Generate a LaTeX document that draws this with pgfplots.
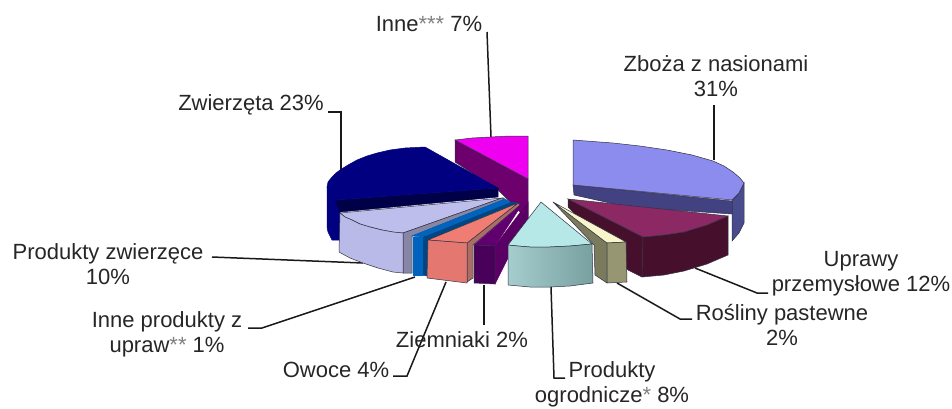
\documentclass[border=0pt]{standalone}
\usepackage{fontspec}
\setmainfont{Liberation Sans}
\usepackage{pgfplots}
\pgfplotsset{compat=1.18}
\definecolor{zbtop}{RGB}{140,140,238}
\definecolor{zbin}{RGB}{66,66,130}
\definecolor{zbout}{RGB}{72,76,140}
\definecolor{uptop}{RGB}{140,40,100}
\definecolor{updark}{RGB}{70,16,44}
\definecolor{rptop}{RGB}{248,246,200}
\definecolor{rpside}{RGB}{122,122,92}
\definecolor{rpfront}{RGB}{150,150,115}
\definecolor{ogtop}{RGB}{182,232,232}
\definecolor{ogl}{RGB}{165,205,205}
\definecolor{ogr}{RGB}{120,160,160}
\definecolor{intop}{RGB}{240,0,240}
\definecolor{inside}{RGB}{110,0,110}
\definecolor{zwtop}{RGB}{0,0,128}
\definecolor{zwin}{RGB}{0,0,72}
\definecolor{pztop}{RGB}{190,190,236}
\definecolor{pzfront}{RGB}{186,186,232}
\definecolor{pzside}{RGB}{135,135,165}
\definecolor{ipfront}{RGB}{0,100,190}
\definecolor{ipside}{RGB}{0,70,130}
\definecolor{owtop}{RGB}{240,125,115}
\definecolor{owfront}{RGB}{228,120,112}
\definecolor{owside}{RGB}{170,110,100}
\definecolor{zitop}{RGB}{96,0,110}
\definecolor{zifront}{RGB}{72,0,90}
\definecolor{ziside}{RGB}{90,0,100}
\definecolor{edge}{RGB}{50,50,70}
\begin{document}
\begin{tikzpicture}
\begin{axis}[
    width=952pt, height=408pt, scale only axis,
    hide axis, clip=false,
    xmin=0, xmax=952, ymin=0, ymax=408, y dir=reverse,
    every axis plot/.append style={line width=0.5pt, draw=edge},
]
% leader lines
\pgfplotsset{leader/.style={draw=black!90, line width=1.5pt}}
\addplot[leader] coordinates {(487,32) (491,137)};
\addplot[leader] coordinates {(328,112) (341,112) (341,170)};
\addplot[leader] coordinates {(714,105) (714,160)};
\addplot[leader] coordinates {(695,268) (757,293) (768,293)};
\addplot[leader] coordinates {(617,283) (680,319) (692,319)};
\addplot[leader] coordinates {(551,287) (554,378) (565,378)};
\addplot[leader] coordinates {(484,285) (484,325)};
\addplot[leader] coordinates {(446,282) (407,376) (393,376)};
\addplot[leader] coordinates {(415,277) (262,328) (248,328)};
\addplot[leader] coordinates {(363,263) (212,257)};
% Inne
\addplot[fill=inside] coordinates {(455,140) (528,179) (528,220) (498,190) (455,162)} -- cycle;
\addplot[fill=intop] coordinates {(455,140) (472,138) (490,137) (510,136) (528,136) (528,179)} -- cycle;
% Zwierzeta
\addplot[fill=zwtop, draw=zwtop] coordinates {(327,187) (331,195) (335,200) (340,210) (340,240) (332,240) (328,232) (327,227)} -- cycle;
\addplot[fill=zwin, draw=zwin] coordinates {(335,200) (498,188) (498,197) (340,212)} -- cycle;
\addplot[fill=zwtop, draw=zwtop] coordinates {(425,147) (498,188) (335,200) (331,195) (327,187) (328,182) (332,177) (336,173) (340,170) (348,165) (357,160) (367,156) (377,153) (390,150) (405,148)} -- cycle;
% Produkty zwierzece
\addplot[fill=pztop] coordinates {(340,213) (502,198) (403,233) (393,232) (382,230) (370,227) (360,224) (352,220) (345,217)} -- cycle;
\addplot[fill=pzside] coordinates {(403,233) (502,198) (505,199) (412,236) (412,273) (403,273)} -- cycle;
\addplot[fill=pzfront] coordinates {(340,213) (345,217) (352,220) (360,224) (370,227) (382,230) (393,232) (403,233) (403,273) (393,272) (378,268) (363,263) (350,258) (339,252)} -- cycle;
% Inne produkty
\addplot[fill=ipside, draw=ipside] coordinates {(422,237) (510,202) (518,203) (428,240) (427,276) (422,275)} -- cycle;
\addplot[fill=ipfront, draw=ipfront] coordinates {(412,236) (422,237) (510,202) (505,199)} -- cycle;
\addplot[fill=ipfront, draw=ipfront] coordinates {(413,237) (422,237) (422,275) (413,275)} -- cycle;
% Owoce
\addplot[fill=owside] coordinates {(467,243) (518,203) (520,205) (473,245) (473,278) (467,282)} -- cycle;
\addplot[fill=owtop] coordinates {(428,240) (518,203) (467,243)} -- cycle;
\addplot[fill=owfront] coordinates {(428,240) (467,243) (467,283) (427,278)} -- cycle;
% Ziemniaki
\addplot[fill=ziside, draw=ziside] coordinates {(495,246) (528,202) (528,218) (495,284)} -- cycle;
\addplot[fill=zitop, draw=zitop] coordinates {(474,245) (495,246) (523,203)} -- cycle;
\addplot[fill=zifront] coordinates {(474,245) (495,246) (495,284) (474,283)} -- cycle;
% Zboza
\addplot[fill=zbout] coordinates {(732,201) (739,193) (744,183) (744,223) (739,233) (732,241)} -- cycle;
\addplot[fill=zbin] coordinates {(573,185) (732,201) (732,214) (628,207) (574,195)} -- cycle;
\addplot[fill=zbtop] coordinates {(573,140) (613,143) (640,146) (667,150) (692,155) (713,161) (724,166) (733,172) (740,178) (744,183) (739,193) (732,200) (573,185)} -- cycle;
% Uprawy
\addplot[fill=updark] coordinates {(568,199) (643,237) (642,277) (628,270) (568,207)} -- cycle;
\addplot[fill=updark] coordinates {(643,237) (664,235) (684,232) (707,225) (728,216) (728,255) (707,264) (684,271) (664,275) (642,277)} -- cycle;
\addplot[fill=uptop] coordinates {(568,199) (728,216) (707,225) (684,232) (664,235) (643,237)} -- cycle;
% Rosliny
\addplot[fill=rpside] coordinates {(553,202) (607,243) (607,283) (595,275) (594,245)} -- cycle;
\addplot[fill=rptop] coordinates {(553,202) (626,242) (607,243)} -- cycle;
\addplot[fill=rpfront] coordinates {(607,243) (626,242) (627,282) (607,283)} -- cycle;
% Ogrodnicze
\addplot[fill=ogtop] coordinates {(541,202) (592,244) (581,245) (570,246) (550,247) (530,247) (518,246) (508,245)} -- cycle;
\addplot[left color=ogl, right color=ogr] coordinates {(508,245) (518,246) (530,247) (550,247) (570,246) (581,245) (592,244) (593,283) (570,286) (550,287) (530,287) (508,285)} -- cycle;
% labels
\path (axis cs:0,0) rectangle (axis cs:952,408);
\tikzset{lab/.style={font=\fontsize{22}{25}\selectfont, align=center, inner sep=0pt, text=black!85}}
\node[lab] at (axis cs:429,24) {Inne{\color{gray}***} 7\%};
\node[lab] at (axis cs:716,76) {Zboża z nasionami\\31\%};
\node[lab] at (axis cs:251,105) {Zwierzęta 23\%};
\node[lab] at (axis cs:861,274) {Uprawy\\przemysłowe 12\%};
\node[lab] at (axis cs:782,325) {Rośliny pastewne\\2\%};
\node[lab] at (axis cs:612,384) {Produkty\\ogrodnicze{\color{gray}*} 8\%};
\node[lab] at (axis cs:462,340) {Ziemniaki 2\%};
\node[lab] at (axis cs:336,370) {Owoce 4\%};
\node[lab] at (axis cs:167,334) {Inne produkty z\\upraw{\color{gray}**} 1\%};
\node[lab] at (axis cs:108,264) {Produkty zwierzęce\\10\%};
\end{axis}
\end{tikzpicture}
\end{document}
